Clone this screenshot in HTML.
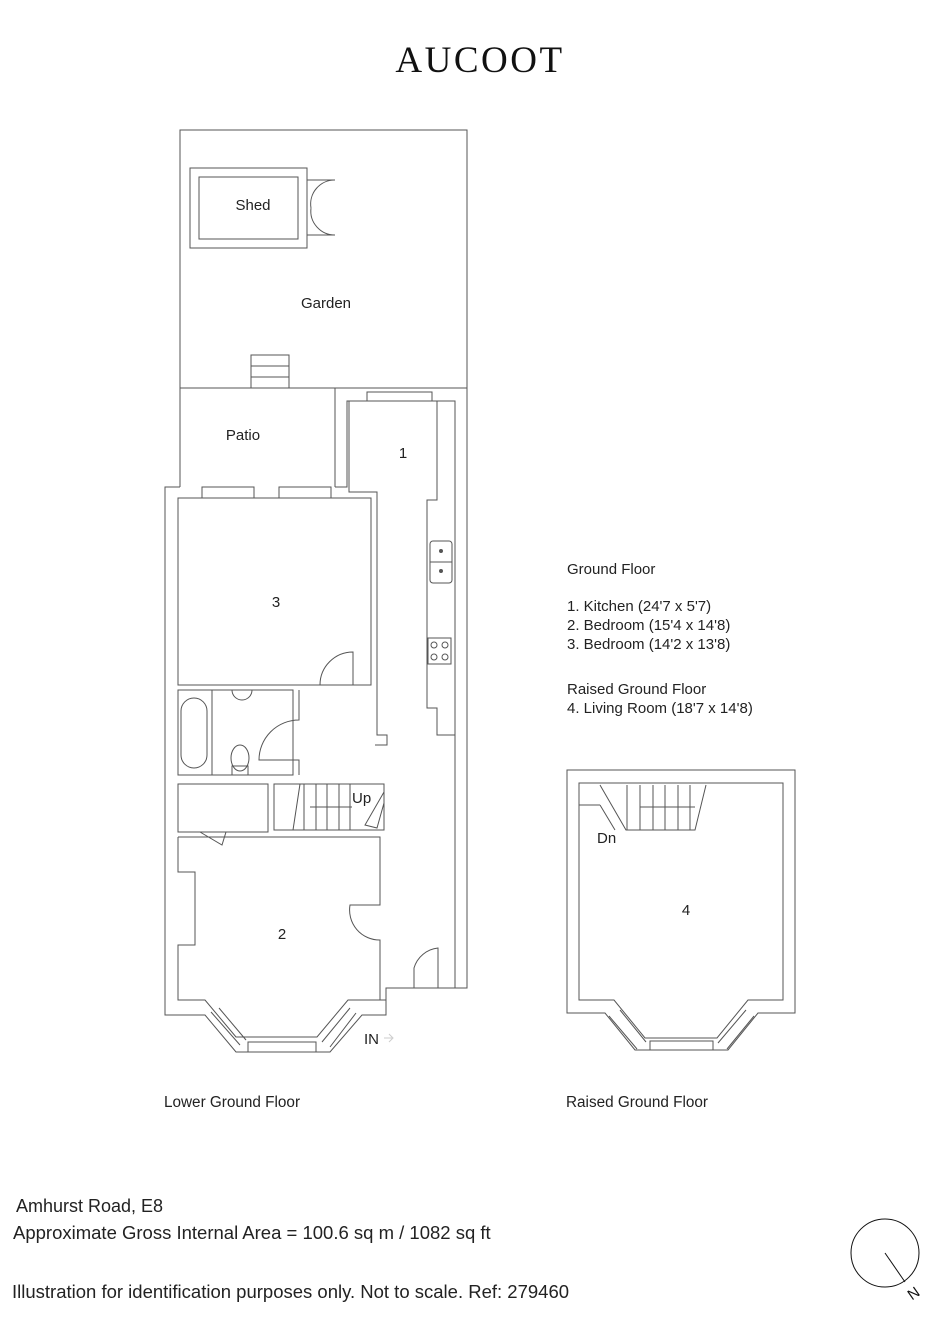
<!DOCTYPE html>
<html><head><meta charset="utf-8"><style>
body{margin:0;background:#fff;width:952px;height:1320px;overflow:hidden;font-family:"Liberation Sans",sans-serif}
svg{position:absolute;left:0;top:0}
</style></head><body>
<svg width="952" height="1320" viewBox="0 0 952 1320" font-family="Liberation Sans, sans-serif" fill="none" stroke="#555" stroke-width="1">
<text x="480" y="72" text-anchor="middle" font-family="Liberation Serif, serif" font-size="37" letter-spacing="2.5" fill="#111" stroke="none">AUCOOT</text>
<!-- garden -->
<rect x="180" y="130" width="287" height="258"/>
<rect x="190" y="168" width="117" height="80"/>
<rect x="199" y="177" width="99" height="62"/>
<path d="M307 180 h28 M307 235 h28 M335 180 a24 24 0 0 0 -24 28 M335 235 a24 24 0 0 1 -24 -27"/>
<rect x="251" y="355" width="38" height="33"/>
<line x1="251" y1="366" x2="289" y2="366"/><line x1="251" y1="377" x2="289" y2="377"/>
<!-- patio -->
<path d="M180 388 V487 M335 388 V487"/>
<!-- outer walls lower -->
<path d="M180 487 H165 V1015 H205 L236 1052 H330 L362 1015 H386 V988 H467 V388"/>
<path d="M335 487 H347 V401 H455 V988"/>
<path d="M367 392 H432 V401 H367Z"/>
<path d="M349 401 V492 H377 V735 H387 V745 H375"/>
<path d="M437 401 V500 H427 V708 H437 V735 H455"/>
<!-- kitchen fittings -->
<rect x="430" y="541" width="22" height="42" rx="3"/>
<line x1="430" y1="562" x2="452" y2="562"/>
<circle cx="441" cy="551" r="1.5" fill="#555"/><circle cx="441" cy="571" r="1.5" fill="#555"/>
<rect x="428" y="638" width="23" height="26"/>
<circle cx="434" cy="645" r="3"/><circle cx="445" cy="645" r="3"/><circle cx="434" cy="657" r="3"/><circle cx="445" cy="657" r="3"/>
<!-- room3 -->
<rect x="178" y="498" width="193" height="187"/>
<path d="M202 487 H254 V498 H202Z M279 487 H331 V498 H279Z"/>
<path d="M353 685 V652 a33 33 0 0 0 -33 33"/>
<!-- bathroom -->
<path d="M178 690 H293 V775 H178Z M212 690 V775"/>
<rect x="181" y="698" width="26" height="70" rx="13"/>
<path d="M232 690 a10 10 0 0 0 20 0"/>
<ellipse cx="240" cy="758" rx="9" ry="13"/>
<rect x="232" y="766" width="16" height="9"/>
<path d="M299 690 V720 a40 40 0 0 0 -40 40 H299 V775"/>
<!-- stairs -->
<rect x="274" y="784" width="110" height="46"/>
<path d="M304 784 V830 M316 784 V830 M327 784 V830 M339 784 V830 M350 784 V830 M300 784 L293 830"/>
<path d="M310 807 H352"/>
<path d="M384 792 L365 825 L377 828 L384 803"/>
<!-- cupboard -->
<rect x="178" y="784" width="90" height="48"/>
<path d="M200 832 L222 845 L226 832"/>
<!-- room2 -->
<path d="M178 837 H380 V905 H350 a30 30 0 0 0 30 35 V1000 H386 V988 M178 837 V872 H195 V945 H178 V1000 H205 L236 1037 H317 L348 1000 H380"/>
<path d="M414 988 V968 a28 28 0 0 1 24 -20 V988"/>
<path d="M211 1012 L240 1045 M219 1008 L246 1040 M248 1042 H316 V1052 H248Z M322 1042 L350 1008 M330 1047 L356 1013"/>
<text x="364" y="1044" font-size="15" fill="#222" stroke="none">IN</text>
<path d="M384 1038 h8 m-3 -4 l4 4 l-4 4" stroke="#ccc"/>
<!-- raised ground floor -->
<path d="M567 770 H795 V1013 H758 L728 1050 H635 L605 1013 H567Z"/>
<path d="M579 783 H783 V1000 H748 L717 1038 H645 L614 1000 H579Z"/>
<path d="M579 783 V848 M579 805 H600 M600 785 L626 830 H695 L706 785 M627 785 V830 M640 785 V830 M653 785 V830 M665 785 V830 M678 785 V830 M690 785 V830 M600 805 L615 830 M640 807 H695"/>
<path d="M609 1016 L637 1049 M620 1010 L646 1042 M650 1041 H713 V1050 H650Z M718 1043 L746 1010 M727 1049 L754 1016"/>
<g fill="#222" stroke="none" font-size="15">
<text x="253" y="210" text-anchor="middle">Shed</text>
<text x="326" y="308" text-anchor="middle">Garden</text>
<text x="243" y="440" text-anchor="middle">Patio</text>
<text x="403" y="458" text-anchor="middle">1</text>
<text x="276" y="607" text-anchor="middle">3</text>
<text x="282" y="939" text-anchor="middle">2</text>
<text x="352" y="803">Up</text>
<text x="597" y="843">Dn</text>
<text x="686" y="915" text-anchor="middle">4</text>
<text x="567" y="574">Ground Floor</text>
<text x="567" y="611">1. Kitchen (24'7 x 5'7)</text>
<text x="567" y="630">2. Bedroom (15'4 x 14'8)</text>
<text x="567" y="649">3. Bedroom (14'2 x 13'8)</text>
<text x="567" y="694">Raised Ground Floor</text>
<text x="567" y="713">4. Living Room (18'7 x 14'8)</text>
<text x="164" y="1107" font-size="15.3">Lower Ground Floor</text>
<text x="566" y="1107" font-size="15.3">Raised Ground Floor</text>
<text x="16" y="1212" font-size="18">Amhurst Road, E8</text>
<text x="13" y="1239" font-size="18.5">Approximate Gross Internal Area = 100.6 sq m / 1082 sq ft</text>
<text x="12" y="1298" font-size="18.5">Illustration for identification purposes only. Not to scale. Ref: 279460</text>
</g>
<circle cx="885" cy="1253" r="34" stroke="#111"/>
<line x1="885" y1="1253" x2="905" y2="1282" stroke="#111"/>
<text x="908" y="1300" font-size="15" fill="#111" stroke="none" transform="rotate(-35 911 1294)">N</text>
</svg>
</body></html>
